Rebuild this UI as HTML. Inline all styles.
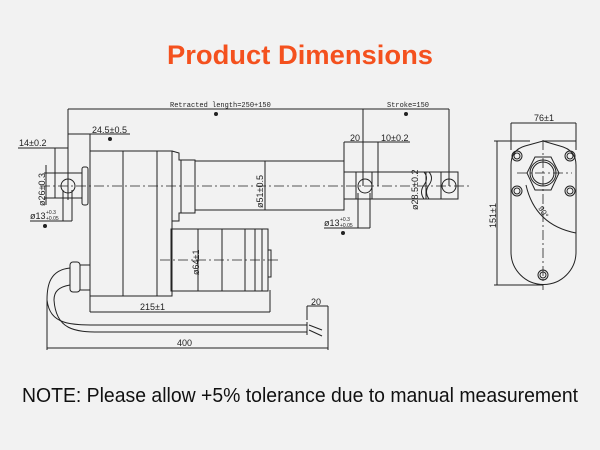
<!DOCTYPE html>
<html><head><meta charset="utf-8"><style>
html,body{margin:0;padding:0;background:#f2f2f2;}
svg{display:block;}
</style></head><body>
<svg width="600" height="450" viewBox="0 0 600 450" xmlns="http://www.w3.org/2000/svg">
<rect width="600" height="450" fill="#f2f2f2"/>
<text x="300" y="64" text-anchor="middle" font-family="Liberation Sans, sans-serif" font-weight="bold" font-size="27" fill="#f4511e" textLength="266" lengthAdjust="spacingAndGlyphs">Product Dimensions</text>
<text x="22" y="402" font-family="Liberation Sans, sans-serif" font-size="20" fill="#111" textLength="556" lengthAdjust="spacingAndGlyphs">NOTE: Please allow +5% tolerance due to manual measurement</text>

<g stroke="#222" stroke-width="1" fill="none">
<!-- retracted length -->
<line x1="68" y1="109" x2="363" y2="109"/>
<line x1="68" y1="109" x2="68" y2="200"/>
<line x1="363" y1="109" x2="363" y2="186"/>
<!-- stroke -->
<line x1="363" y1="109" x2="449" y2="109"/>
<line x1="449" y1="109" x2="449" y2="186"/>
<!-- 24.5 -->
<line x1="68" y1="134" x2="130" y2="134"/>
<line x1="90" y1="134" x2="90" y2="151"/>
<!-- 14 -->
<line x1="18" y1="148" x2="68" y2="148"/>
<line x1="55" y1="148" x2="55" y2="173"/>
<!-- 26 -->
<line x1="44" y1="173" x2="58" y2="173"/><line x1="44" y1="198" x2="58" y2="198"/>
<line x1="46" y1="165" x2="46" y2="205"/>
<!-- phi13 left -->
<line x1="30" y1="221" x2="72" y2="221"/>
<line x1="63" y1="190" x2="63" y2="221"/><line x1="72" y1="190" x2="72" y2="221"/>
<!-- body -->
<rect x="90" y="151" width="82" height="145"/>
<line x1="123" y1="151" x2="123" y2="296"/>
<line x1="157" y1="151" x2="157" y2="296"/>
<line x1="90" y1="296" x2="90" y2="312"/>
<line x1="90" y1="312" x2="270" y2="312"/>
<line x1="270" y1="290" x2="270" y2="312"/>
<!-- collar -->
<polyline points="172,151 179,153 179,160 195,160 195,213 179,213 179,221 172,221"/>
<line x1="181" y1="160" x2="181" y2="213"/>
<line x1="172" y1="210" x2="172" y2="230"/>
<!-- tube -->
<rect x="195" y="161" width="149" height="49"/>
<line x1="344" y1="142" x2="344" y2="161"/>
<line x1="344" y1="142" x2="378" y2="142"/>
<line x1="378" y1="142" x2="378" y2="186"/>
<line x1="378" y1="142" x2="410" y2="142"/>
<!-- rod -->
<rect x="344" y="172" width="114" height="27"/>
<line x1="356" y1="172" x2="356" y2="199"/>
<line x1="372" y1="172" x2="372" y2="199"/>
<line x1="441" y1="172" x2="441" y2="199"/>
<path d="M424,172 q5,6 0,13 q-5,7 0,14"/>
<path d="M429,172 q5,6 0,13 q-5,7 0,14"/>
<circle cx="365" cy="186" r="7"/>
<circle cx="449" cy="186" r="7"/>
<!-- rod phi13 -->
<line x1="324" y1="228" x2="370" y2="228"/>
<line x1="358" y1="193" x2="358" y2="228"/><line x1="370" y1="193" x2="370" y2="228"/>
<!-- 28.5 -->
<line x1="426" y1="172" x2="426" y2="199"/>
<!-- left lug -->
<rect x="55" y="173" width="27" height="25"/>
<circle cx="68" cy="186" r="7"/>
<rect x="82" y="167" width="6" height="38" rx="2"/>
<!-- motor -->
<rect x="171" y="229" width="97" height="62"/>
<line x1="222" y1="229" x2="222" y2="291"/>
<line x1="245" y1="229" x2="245" y2="291"/>
<line x1="255" y1="229" x2="255" y2="291"/>
<line x1="262" y1="229" x2="262" y2="291"/>
<rect x="268" y="250" width="3" height="27"/>
<line x1="198" y1="229" x2="198" y2="291"/>
<!-- cable gland -->
<rect x="80" y="265" width="10" height="25"/>
<rect x="70" y="262" width="10" height="30" rx="3"/>
<path d="M70,268 C50,270 47,285 47,300 C50,325 70,325 100,325 L307,325"/>
<path d="M70,285 C58,287 54,292 54,300 C56,330 75,332 100,332 L307,332"/>
<line x1="307" y1="322" x2="307" y2="335"/>
<line x1="309" y1="325" x2="322" y2="330"/><line x1="309" y1="330" x2="322" y2="336"/>
<!-- 20 cable -->
<line x1="307" y1="306" x2="328" y2="306"/>
<line x1="307" y1="306" x2="307" y2="320"/>
<line x1="328" y1="306" x2="328" y2="350"/>
<!-- 400 -->
<line x1="47" y1="300" x2="47" y2="350"/>
<line x1="47" y1="348" x2="328" y2="348"/>
<!-- 51, 64 dims -->
<line x1="265" y1="161" x2="265" y2="210"/>
<line x1="198" y1="229" x2="198" y2="291"/>
<!-- side view -->
<path d="M511,165 Q511,150 525,146 L543,141 L560,146 Q576,150 576,165 L576,252 A32.5,32.5 0 0 1 511,252 Z"/>
<line x1="543" y1="141" x2="576" y2="141"/>
<line x1="511" y1="123" x2="576" y2="123"/>
<line x1="511" y1="123" x2="511" y2="150"/><line x1="576" y1="123" x2="576" y2="150"/>
<line x1="497" y1="141" x2="497" y2="285"/>
<line x1="494" y1="141" x2="530" y2="141"/>
<line x1="494" y1="285" x2="543" y2="285"/>
<circle cx="517" cy="156" r="5"/><circle cx="517" cy="156" r="3"/>
<circle cx="570" cy="156" r="5"/><circle cx="570" cy="156" r="3"/>
<circle cx="517" cy="191" r="5"/><circle cx="517" cy="191" r="3"/>
<circle cx="570" cy="191" r="5"/><circle cx="570" cy="191" r="3"/>
<circle cx="543" cy="275" r="5"/><circle cx="543" cy="275" r="3"/>
<polygon points="535,157 551,157 559,173 551,190 535,190 527,173"/>
<circle cx="543" cy="173" r="13"/><circle cx="543" cy="173" r="11"/>
<path d="M526,185 Q535,225 576,233"/>
</g>
<g stroke="#222" stroke-width="0.8" stroke-dasharray="10,3,2,3" fill="none">
<line x1="40" y1="186" x2="470" y2="186"/>
<line x1="160" y1="260" x2="280" y2="260"/>
<line x1="543" y1="140" x2="543" y2="290"/>
<line x1="517" y1="173" x2="572" y2="173"/>
</g>
<g fill="#222">
<circle cx="216" cy="114" r="2"/><circle cx="110" cy="139" r="2"/><circle cx="45" cy="226" r="2"/>
<circle cx="406" cy="114" r="2"/><circle cx="343" cy="233" r="2"/>
</g>
<g font-family="Liberation Sans, sans-serif" fill="#222">
<text x="170" y="107" font-size="7" font-family="Liberation Mono, monospace">Retracted length=250+150</text>
<text x="387" y="107" font-size="7" font-family="Liberation Mono, monospace">Stroke=150</text>
<text x="92" y="133" font-size="9">24.5±0.5</text>
<text x="19" y="146" font-size="9">14±0.2</text>
<text x="350" y="141" font-size="9">20</text>
<text x="381" y="141" font-size="9">10±0.2</text>
<text x="30" y="219" font-size="9">ø13</text><text x="46" y="214" font-size="5">+0.3</text><text x="46" y="220" font-size="5">+0.05</text>
<text x="324" y="226" font-size="9">ø13</text><text x="340" y="221" font-size="5">+0.3</text><text x="340" y="227" font-size="5">+0.05</text>
<text x="140" y="310" font-size="9">215±1</text>
<text x="177" y="346" font-size="9">400</text>
<text x="311" y="305" font-size="9">20</text>
<text x="534" y="121" font-size="9">76±1</text>
<text transform="translate(45,206) rotate(-90)" font-size="9">ø26±0.3</text>
<text transform="translate(263,208) rotate(-90)" font-size="9">ø51±0.5</text>
<text transform="translate(199,275) rotate(-90)" font-size="9">ø64±1</text>
<text transform="translate(418,210) rotate(-90)" font-size="9">ø28.5±0.2</text>
<text transform="translate(496,228) rotate(-90)" font-size="9">151±1</text>
<text transform="translate(538,208) rotate(60)" font-size="8">90°</text>
</g>
</svg>
</body></html>
